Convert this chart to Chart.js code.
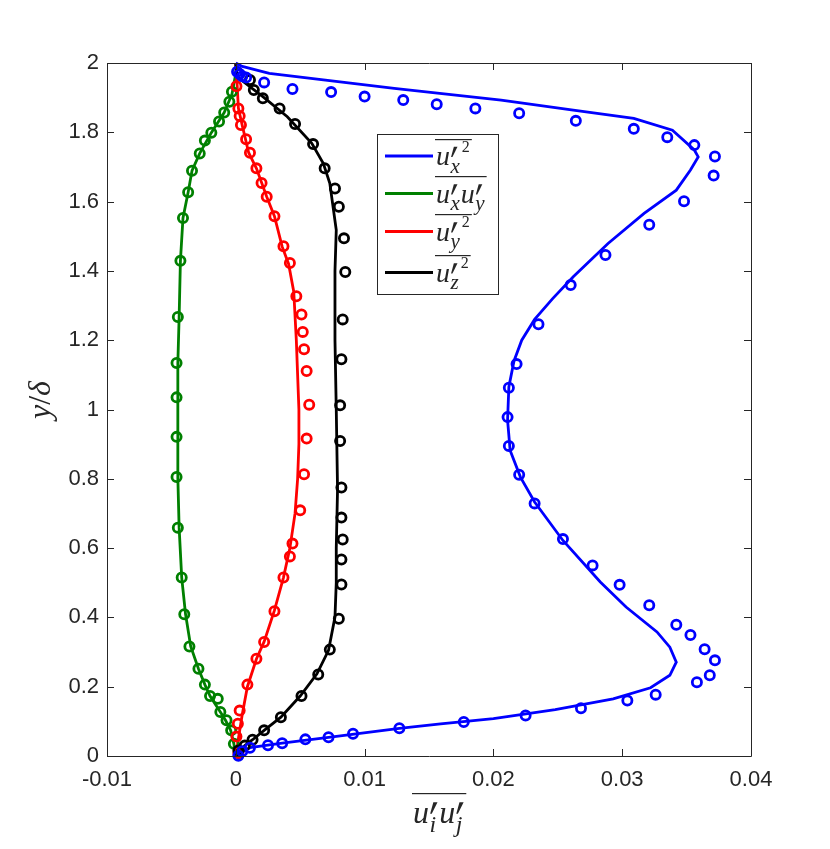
<!DOCTYPE html>
<html>
<head>
<meta charset="utf-8">
<script src="https://cdn.jsdelivr.net/npm/chart.js@4.4.0/dist/chart.umd.min.js"></script>
<style>
html, body { margin: 0; padding: 0; background: #fff; }
#wrap { width: 830px; height: 849px; position: relative; }
</style>
</head>
<body>
<div id="wrap"><canvas id="chart"></canvas></div>
<script>
// axis ticks
const xTicks = [-0.01, 0, 0.01, 0.02, 0.03, 0.04];
const xTickLabels = ['-0.01', '0', '0.01', '0.02', '0.03', '0.04'];
const yTicks = [0, 0.2, 0.4, 0.6, 0.8, 1, 1.2, 1.4, 1.6, 1.8, 2];
const yTickLabels = ['0', '0.2', '0.4', '0.6', '0.8', '1', '1.2', '1.4', '1.6', '1.8', '2'];

// series: [stress, y/delta]  (lines = simulation, circles = reference data)
const uxLine = [[0,0],[0.0011,0.024],[0.0036,0.037],[0.0072,0.054],[0.0127,0.080],[0.0159,0.093],
  [0.0200,0.108],[0.0248,0.134],[0.0293,0.165],[0.0322,0.197],[0.0337,0.233],[0.0342,0.271],
  [0.0337,0.314],[0.0327,0.358],[0.0303,0.430],[0.0283,0.502],[0.0254,0.622],[0.0232,0.733],
  [0.0221,0.805],[0.0213,0.882],[0.0211,0.969],[0.0212,1.065],[0.0216,1.140],[0.0222,1.200],
  [0.0232,1.260],[0.0246,1.320],[0.0262,1.383],[0.0289,1.479],[0.0317,1.566],[0.0342,1.633],
  [0.0353,1.691],[0.0359,1.729],[0.0356,1.749],[0.0339,1.806],[0.0309,1.840],[0.0262,1.864],
  [0.0206,1.893],[0.0123,1.927],[0.0068,1.951],[0.0026,1.970],[0.0005,1.990],[0,2.0]];
const uxData = [[0.0002,0.001],[0.0005,0.014],[0.0011,0.024],[0.0025,0.031],[0.0036,0.037],
  [0.0054,0.048],[0.0072,0.054],[0.0091,0.064],[0.0127,0.080],[0.0177,0.098],[0.0225,0.117],
  [0.0268,0.138],[0.0304,0.160],[0.0326,0.177],[0.0358,0.213],[0.0368,0.233],[0.0372,0.276],
  [0.0364,0.308],[0.0353,0.349],[0.0342,0.379],[0.0321,0.435],[0.0298,0.494],[0.0277,0.550],
  [0.0254,0.626],[0.0232,0.729],[0.0220,0.812],[0.0212,0.895],[0.0211,0.978],[0.0212,1.063],
  [0.0218,1.131],[0.0235,1.246],[0.0260,1.359],[0.0287,1.446],[0.0321,1.533],[0.0348,1.601],
  [0.0371,1.675],[0.0372,1.730],[0.0356,1.763],[0.0335,1.786],[0.0309,1.810],[0.0264,1.833],
  [0.0220,1.855],[0.0186,1.869],[0.0156,1.881],[0.0130,1.893],[0.0100,1.903],[0.0074,1.916],
  [0.0044,1.925],[0.0022,1.944],[0.0008,1.958],[0.0005,1.962],[0.0003,1.968],[0.0001,1.975]];

const uxyLine = [[0,0],[-0.00015,0.035],[-0.0004,0.074],[-0.0008,0.103],[-0.0012,0.127],
  [-0.0020,0.173],[-0.0024,0.206],[-0.0029,0.252],[-0.0035,0.316],[-0.0039,0.409],[-0.0042,0.515],
  [-0.0044,0.659],[-0.0045,0.803],[-0.0045,0.920],[-0.0045,1.035],[-0.0045,1.134],[-0.0044,1.266],
  [-0.0043,1.429],[-0.0041,1.553],[-0.0037,1.627],[-0.0034,1.689],[-0.0028,1.739],[-0.0019,1.799],
  [-0.0009,1.857],[-0.0003,1.910],[0,1.970],[0,2.0]];
const uxyData = [[-0.00015,0.035],[-0.00036,0.074],[-0.00072,0.103],[-0.0012,0.127],[-0.0014,0.165],
  [-0.0020,0.173],[-0.0024,0.206],[-0.0029,0.252],[-0.0036,0.316],[-0.0040,0.409],[-0.0042,0.515],
  [-0.0045,0.659],[-0.0046,0.805],[-0.0046,0.921],[-0.0046,1.035],[-0.0046,1.134],[-0.0045,1.267],
  [-0.0043,1.429],[-0.0041,1.553],[-0.0037,1.627],[-0.0034,1.689],[-0.0028,1.739],[-0.0024,1.776],
  [-0.0019,1.799],[-0.0013,1.831],[-0.0009,1.857],[-0.0005,1.888],[-0.0003,1.917]];

const uyLine = [[0,0],[0.0002,0.05],[0.0005,0.12],[0.0009,0.20],[0.0016,0.28],[0.0022,0.33],
  [0.0030,0.42],[0.0037,0.515],[0.0042,0.60],[0.0046,0.70],[0.0048,0.80],[0.0049,0.90],
  [0.0049,1.00],[0.0048,1.10],[0.0047,1.20],[0.0045,1.34],[0.0041,1.42],[0.0036,1.47],
  [0.0030,1.558],[0.0024,1.614],[0.0016,1.696],[0.0010,1.741],[0.0005,1.82],[0.0002,1.87],
  [0.0001,1.94],[0,2.0]];
const uyData = [[0.0002,0.008],[0.00005,0.056],[0.00016,0.093],[0.0003,0.131],[0.0009,0.206],
  [0.0016,0.281],[0.0022,0.329],[0.0030,0.418],[0.0037,0.515],[0.0042,0.576],[0.0044,0.613],
  [0.0050,0.709],[0.0053,0.813],[0.0055,0.916],[0.0057,1.014],[0.0055,1.111],[0.0053,1.174],
  [0.0052,1.224],[0.0051,1.274],[0.0047,1.327],[0.0042,1.423],[0.0037,1.471],[0.0030,1.558],
  [0.0024,1.614],[0.0020,1.654],[0.0016,1.696],[0.0011,1.741],[0.0008,1.780],[0.0004,1.821],
  [0.0003,1.847],[0.0002,1.869],[0.00005,1.933]];

const uzLine = [[0,0],[0.0007,0.030],[0.0013,0.047],[0.0022,0.074],[0.0035,0.112],[0.0050,0.173],
  [0.0063,0.237],[0.0072,0.305],[0.0077,0.401],[0.0078,0.50],[0.0078,0.60],[0.0079,0.77],
  [0.0078,1.00],[0.0077,1.20],[0.0077,1.40],[0.0078,1.518],[0.0073,1.653],[0.0068,1.710],
  [0.0059,1.768],[0.0040,1.845],[0.0021,1.903],[0.0001,1.96],[0,2.0]];
const uzData = [[0.0002,0.016],[0.0007,0.030],[0.0013,0.047],[0.0022,0.074],[0.0035,0.112],
  [0.0051,0.173],[0.0064,0.235],[0.0073,0.307],[0.0080,0.396],[0.0082,0.495],[0.0082,0.567],
  [0.0083,0.625],[0.0082,0.688],[0.0082,0.775],[0.0081,0.909],[0.0081,1.012],[0.0082,1.145],
  [0.0083,1.260],[0.0085,1.397],[0.0084,1.494],[0.0080,1.585],[0.0077,1.638],[0.0069,1.696],
  [0.0060,1.766],[0.0046,1.824],[0.0034,1.869],[0.0021,1.898],[0.0014,1.922],[0.0011,1.951]];

const BLUE = '#0000ff', GREEN = '#008000', RED = '#ff0000', BLACK = '#000000';
const AXIS = '#262626';

// legend entries: [colour, first subscript, second subscript or null, squared?]
const legendItems = [
  [BLUE, 'x', null, true],
  [GREEN, 'x', 'y', false],
  [RED, 'y', null, true],
  [BLACK, 'z', null, true]
];

const pts = arr => arr.map(([x, y]) => ({ x, y }));

function lineSet(arr, color, order) {
  return { data: pts(arr), showLine: true, borderColor: color, borderWidth: 2.8,
    pointRadius: 0, fill: false, tension: 0, clip: false, order };
}
function markSet(arr, color, order) {
  return { data: pts(arr), showLine: false, pointStyle: 'circle', pointRadius: 4.6,
    borderWidth: 2.8, pointBorderWidth: 2.8, pointBorderColor: color,
    pointBackgroundColor: 'rgba(0,0,0,0)', borderColor: color, clip: false, order };
}

// u'_sub with a hand-drawn prime, returns x after the term
function uTerm(ctx, x, base, sub, S) {
  ctx.font = `italic ${S}px "Liberation Serif"`;
  ctx.fillText('u', x, base);
  const px = x + ctx.measureText('u').width + 0.5;
  ctx.beginPath();
  ctx.moveTo(px + 0.12 * S, base - 0.65 * S);
  ctx.lineTo(px + 0.25 * S, base - 0.65 * S);
  ctx.lineTo(px + 0.07 * S, base - 0.29 * S);
  ctx.lineTo(px + 0.02 * S, base - 0.29 * S);
  ctx.closePath();
  ctx.fill();
  ctx.font = `italic ${Math.round(S * 0.75)}px "Liberation Serif"`;
  ctx.fillText(sub, px, base + 0.28 * S);
  return px + Math.max(0.27 * S, ctx.measureText(sub).width);
}

function mathLabel(ctx, x, base, s1, s2, sq, S) {
  let end = uTerm(ctx, x, base, s1, S);
  if (s2) end = uTerm(ctx, end + 1, base, s2, S);
  if (sq) {
    ctx.font = `${Math.round(S * 0.56)}px "Liberation Serif"`;
    ctx.fillText('2', end + 2, base - 0.47 * S);
    end += 2 + ctx.measureText('2').width;
  }
  ctx.fillRect(x - 1, Math.round(base - 0.93 * S), end - x + 3, 1.2);
}

const mathPlugin = {
  id: 'mathAxes',
  afterDatasetsDraw(chart) {
    const { ctx, chartArea: a, scales: { x, y } } = chart;
    ctx.save();
    // box and inward ticks
    ctx.strokeStyle = AXIS;
    ctx.lineWidth = 1;
    ctx.beginPath();
    ctx.rect(Math.round(a.left) + 0.5, Math.round(a.top) + 0.5,
      Math.round(a.right - a.left), Math.round(a.bottom - a.top));
    x.ticks.forEach(t => {
      const p = Math.round(x.getPixelForValue(t.value)) + 0.5;
      ctx.moveTo(p, a.bottom); ctx.lineTo(p, a.bottom - 7);
      ctx.moveTo(p, a.top); ctx.lineTo(p, a.top + 7);
    });
    y.ticks.forEach(t => {
      const p = Math.round(y.getPixelForValue(t.value)) + 0.5;
      ctx.moveTo(a.left, p); ctx.lineTo(a.left + 7, p);
      ctx.moveTo(a.right, p); ctx.lineTo(a.right - 7, p);
    });
    ctx.stroke();

    // legend
    const lx = 377, ly = 134, lw = 121, lh = 160;
    ctx.fillStyle = '#fff';
    ctx.fillRect(lx, ly, lw, lh);
    ctx.strokeStyle = AXIS;
    ctx.strokeRect(lx + 0.5, ly + 0.5, lw, lh);
    const rowY = [156, 193.5, 231.5, 272.5];
    legendItems.forEach(([col, s1, s2, sq], i) => {
      ctx.strokeStyle = col;
      ctx.lineWidth = 2.8;
      ctx.beginPath();
      ctx.moveTo(385, rowY[i]); ctx.lineTo(433, rowY[i]);
      ctx.stroke();
      ctx.fillStyle = AXIS;
      mathLabel(ctx, 436, rowY[i] + 9, s1, s2, sq, 28);
    });
    ctx.restore();
  },
  afterDraw(chart) {
    const ctx = chart.ctx;
    ctx.save();
    ctx.fillStyle = AXIS;
    ctx.textBaseline = 'alphabetic';
    // x title: overline u'_i u'_j
    mathLabel(ctx, 413, 823, 'i', 'j', false, 32);
    // y title: y/delta, rotated
    ctx.translate(50, 400);
    ctx.rotate(-Math.PI / 2);
    ctx.font = 'italic 32px "Liberation Serif"';
    const wy = ctx.measureText('y').width;
    ctx.font = '32px "Liberation Serif"';
    const ws = ctx.measureText('/').width;
    ctx.font = 'italic 32px "Liberation Serif"';
    const wd = ctx.measureText('δ').width;
    let sx = -(wy + ws + wd) / 2;
    ctx.fillText('y', sx, 0); sx += wy;
    ctx.font = '32px "Liberation Serif"';
    ctx.fillText('/', sx, 0); sx += ws;
    ctx.font = 'italic 32px "Liberation Serif"';
    ctx.fillText('δ', sx, 0);
    ctx.restore();
  }
};

const tickFont = { family: '"Liberation Sans", Arial, sans-serif', size: 22 };

new Chart(document.getElementById('chart'), {
  type: 'scatter',
  data: {
    datasets: [
      markSet(uxData, BLUE, 1), markSet(uzData, BLACK, 2), markSet(uyData, RED, 3), markSet(uxyData, GREEN, 4),
      lineSet(uxLine, BLUE, 5), lineSet(uzLine, BLACK, 6), lineSet(uyLine, RED, 7), lineSet(uxyLine, GREEN, 8)
    ]
  },
  options: {
    responsive: true,
    maintainAspectRatio: false,
    animation: false,
    events: [],
    layout: { padding: { top: 63, right: 79, bottom: 0, left: 0 } },
    plugins: { legend: { display: false }, tooltip: { enabled: false } },
    scales: {
      x: {
        type: 'linear', min: -0.01, max: 0.04,
        afterBuildTicks: s => { s.ticks = xTicks.map(v => ({ value: v })); },
        afterFit: s => { s.height = 93; },
        grid: { display: false, drawTicks: false },
        border: { display: false },
        ticks: { font: tickFont, color: AXIS, padding: 11, maxRotation: 0,
          callback: (v, i) => xTickLabels[i] }
      },
      y: {
        type: 'linear', min: 0, max: 2,
        afterBuildTicks: s => { s.ticks = yTicks.map(v => ({ value: v })); },
        afterFit: s => { s.width = 107; },
        grid: { display: false, drawTicks: false },
        border: { display: false },
        ticks: { font: tickFont, color: AXIS, padding: 8,
          callback: (v, i) => yTickLabels[i] }
      }
    }
  },
  plugins: [mathPlugin]
});
</script>
</body>
</html>
